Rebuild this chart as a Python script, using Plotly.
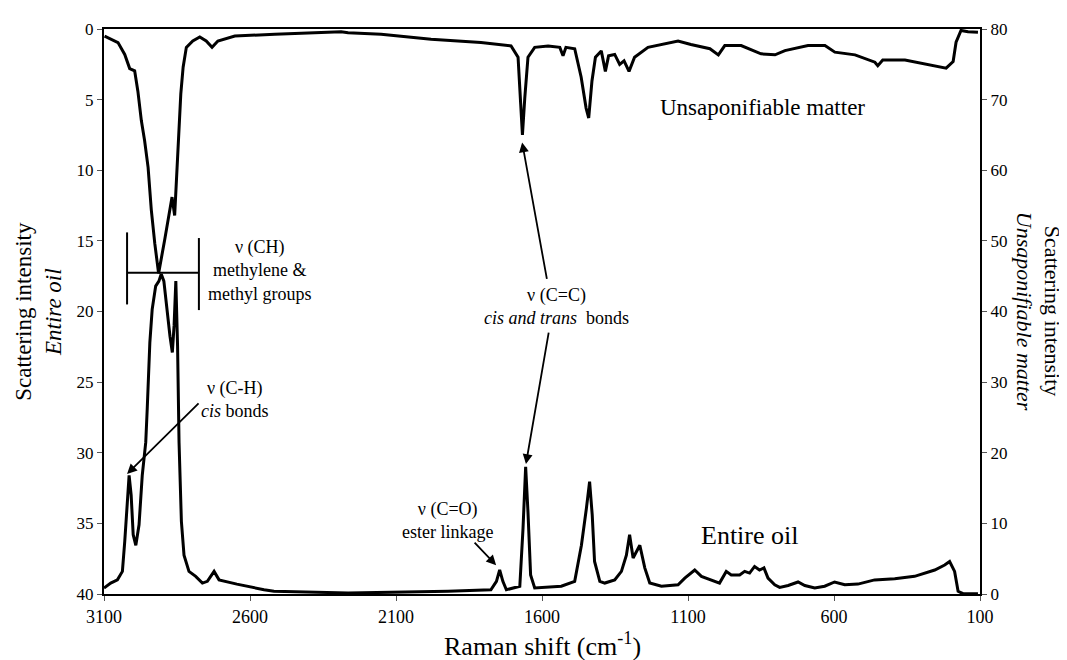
import plotly.graph_objects as go

# ---- Data ----
# Unsaponifiable matter (plotted on the reversed left axis)
unsap_shift = [3098, 3052, 3029, 3012, 2995, 2984, 2972, 2961, 2949, 2938, 2926, 2913,
               2892, 2875, 2867, 2858, 2852, 2844, 2837, 2829, 2818, 2796, 2772, 2750,
               2730, 2710, 2652, 2515, 2288, 2264, 2151, 1980, 1809, 1706, 1682, 1673,
               1667, 1659, 1648, 1625, 1579, 1539, 1528, 1518, 1488, 1466, 1449, 1440,
               1429, 1417, 1397, 1383, 1372, 1351, 1334, 1319, 1302, 1283, 1237, 1134,
               1090, 1025, 996, 974, 918, 850, 802, 768, 689, 631, 597, 528, 460, 450,
               433, 357, 288, 216, 192, 182, 165, 141, 107]
unsap_int = [0.5, 0.96, 1.8, 2.8, 2.96, 4.4, 6.5, 7.9, 9.8, 12.8, 15.2, 17.3,
             14.9, 12.8, 11.9, 13.2, 10.5, 7.7, 4.6, 2.7, 1.3, 0.85, 0.56, 0.85,
             1.3, 0.85, 0.5, 0.37, 0.2, 0.26, 0.37, 0.73, 0.96, 1.2, 2.0, 5.3,
             7.5, 4.9, 2.0, 1.3, 1.2, 1.3, 1.9, 1.3, 1.4, 3.4, 5.6, 6.3,
             3.7, 2.0, 1.55, 3.0, 1.9, 1.8, 2.5, 2.25, 3.0, 2.0, 1.3, 0.85,
             1.1, 1.4, 1.83, 1.17, 1.17, 1.76, 1.83, 1.53, 1.17, 1.17, 1.64, 1.83, 2.35, 2.6,
             2.2, 2.2, 2.46, 2.77, 2.3, 0.94, 0.1, 0.2, 0.23]

# Entire oil (plotted on the right axis)
oil_shift = [3100, 3077, 3054, 3037, 3029, 3020, 3014, 3007, 3000, 2991, 2980, 2969,
             2957, 2952, 2943, 2935, 2923, 2912, 2904, 2895, 2883, 2874, 2866, 2860,
             2854, 2848, 2843, 2835, 2826, 2809, 2786, 2763, 2746, 2723, 2706, 2645,
             2552, 2518, 2264, 1922, 1775, 1756, 1745, 1734, 1722, 1676, 1665, 1656,
             1648, 1639, 1625, 1534, 1488, 1465, 1448, 1437, 1428, 1420, 1402, 1385,
             1351, 1328, 1311, 1300, 1288, 1265, 1248, 1231, 1191, 1134, 1111, 1077,
             1054, 1009, 992, 969, 952, 923, 906, 889, 872, 855, 840, 826, 803, 786,
             757, 723, 700, 666, 632, 598, 563, 518, 461, 392, 324, 255, 221, 204,
             187, 175, 158, 107]
oil_int = [0.85, 1.55, 2.0, 3.2, 7.4, 14.0, 16.8, 14.0, 8.4, 6.9, 9.8, 16.8,
           21.5, 26.2, 35.6, 40.3, 43.6, 44.3, 45.3, 44.3, 39.6, 36.5, 34.2, 38.0,
           44.3, 35.0, 21.5, 10.3, 5.5, 3.2, 2.5, 1.55, 1.8, 3.2, 2.0, 1.4,
           0.6, 0.4, 0.14, 0.38, 0.6, 1.8, 3.4, 1.8, 0.6, 1.1, 9.3, 18.0,
           11.6, 2.7, 0.85, 1.1, 1.8, 6.9, 12.1, 15.9, 11.2, 4.6, 1.8, 1.55,
           2.0, 3.2, 5.5, 8.4, 5.1, 6.9, 3.7, 1.55, 1.1, 1.3, 2.25, 3.4,
           2.5, 1.8, 1.55, 3.2, 2.7, 2.7, 3.2, 2.96, 3.9, 3.4, 3.7, 2.25, 1.3, 0.94,
           1.2, 1.7, 1.2, 0.85, 1.1, 1.7, 1.3, 1.4, 2.0, 2.15, 2.5, 3.4, 4.1, 4.6,
           3.2, 0.38, 0.05, 0.05]

x_ticks = [3100, 2600, 2100, 1600, 1100, 600, 100]
left_ticks = [0, 5, 10, 15, 20, 25, 30, 35, 40]
right_ticks = [0, 10, 20, 30, 40, 50, 60, 70, 80]

FONT = "Liberation Serif, Times New Roman, serif"

fig = go.Figure()
fig.add_trace(go.Scatter(x=unsap_shift, y=unsap_int, mode="lines", yaxis="y",
                         line=dict(color="black", width=3), name="Unsaponifiable matter",
                         showlegend=False))
fig.add_trace(go.Scatter(x=oil_shift, y=oil_int, mode="lines", yaxis="y2",
                         line=dict(color="black", width=3), name="Entire oil",
                         showlegend=False))

fig.update_layout(
    width=1067, height=660,
    margin=dict(l=96, r=95, t=18, b=74),
    paper_bgcolor="white", plot_bgcolor="white",
    font=dict(family=FONT, color="black", size=16),
    xaxis=dict(range=[3100, 100], tickvals=x_ticks, ticks="outside", ticklen=5,
               tickcolor="#555", showline=True, linecolor="black", linewidth=2,
               mirror=True, showgrid=False, zeroline=False,
               tickfont=dict(family=FONT, size=18)),
    yaxis=dict(range=[40, 0], tickvals=left_ticks, ticks="outside", ticklen=5,
               tickcolor="#555", showline=True, linecolor="black", linewidth=2,
               showgrid=False, zeroline=False, tickfont=dict(family=FONT, size=17)),
    yaxis2=dict(range=[0, 80], tickvals=right_ticks, overlaying="y", side="right",
                ticks="outside", ticklen=5, tickcolor="#555", showline=True,
                linecolor="black", linewidth=2, showgrid=False, zeroline=False,
                tickfont=dict(family=FONT, size=17)),
)

ann = []
# axis titles
ann.append(dict(text="Raman shift (cm<sup>-1</sup>)", xref="paper", yref="paper",
                x=0.5, y=-0.1215, xanchor="center", yanchor="bottom", showarrow=False,
                font=dict(family=FONT, size=26)))
ann.append(dict(text="Scattering intensity<br><i>Entire oil</i>", xref="paper", yref="paper",
                x=-0.075, y=0.5, xanchor="center", yanchor="middle", showarrow=False,
                textangle=-90, font=dict(family=FONT, size=23)))
ann.append(dict(text="Scattering intensity<br><i>Unsaponifiable matter</i>", xref="paper",
                yref="paper", x=1.067, y=0.5, xanchor="center", yanchor="middle",
                showarrow=False, textangle=90, font=dict(family=FONT, size=22)))
# series labels
ann.append(dict(text="Unsaponifiable matter", x=846, y=5.56, xref="x", yref="y",
                showarrow=False, font=dict(family=FONT, size=23)))
ann.append(dict(text="Entire oil", x=889, y=35.85, xref="x", yref="y",
                showarrow=False, font=dict(family=FONT, size=26)))
# band labels
ann.append(dict(text="ν (CH)<br>methylene &amp;<br>methyl groups", x=2566, y=17.1,
                xref="x", yref="y", showarrow=False, font=dict(family=FONT, size=18)))
ann.append(dict(text="ν (C-H)<br><i>cis</i> bonds", x=2651, y=26.2,
                xref="x", yref="y", showarrow=False, font=dict(family=FONT, size=18)))
ann.append(dict(text="ν (C=O)<br>ester linkage", x=1922, y=34.8,
                xref="x", yref="y", showarrow=False, font=dict(family=FONT, size=18)))
ann.append(dict(text="ν (C=C)<br><i>cis and trans</i>  bonds", x=1552, y=19.65,
                xref="x", yref="y", showarrow=False, font=dict(family=FONT, size=18)))
# arrows
arrow_style = dict(showarrow=True, arrowhead=2, arrowsize=1.1, arrowwidth=1.8,
                   arrowcolor="black", text="", xref="x", yref="y")
ann.append(dict(x=3021, y=31.5, ax=73, ay=-72, **arrow_style))
ann.append(dict(x=1757, y=37.96, ax=-23, ay=-24, **arrow_style))
ann.append(dict(x=1668, y=8.03, ax=25, ay=138, **arrow_style))
ann.append(dict(x=1655, y=30.8, ax=23, ay=-133, **arrow_style))
fig.update_layout(annotations=ann)

# CH bracket
br = dict(type="line", xref="x", yref="y", line=dict(color="black", width=2))
fig.add_shape(x0=3021, x1=2775, y0=17.25, y1=17.25, **br)
fig.add_shape(x0=3021, x1=3021, y0=14.4, y1=19.5, **br)
fig.add_shape(x0=2775, x1=2775, y0=14.8, y1=19.9, **br)

fig.write_html("out.html")
